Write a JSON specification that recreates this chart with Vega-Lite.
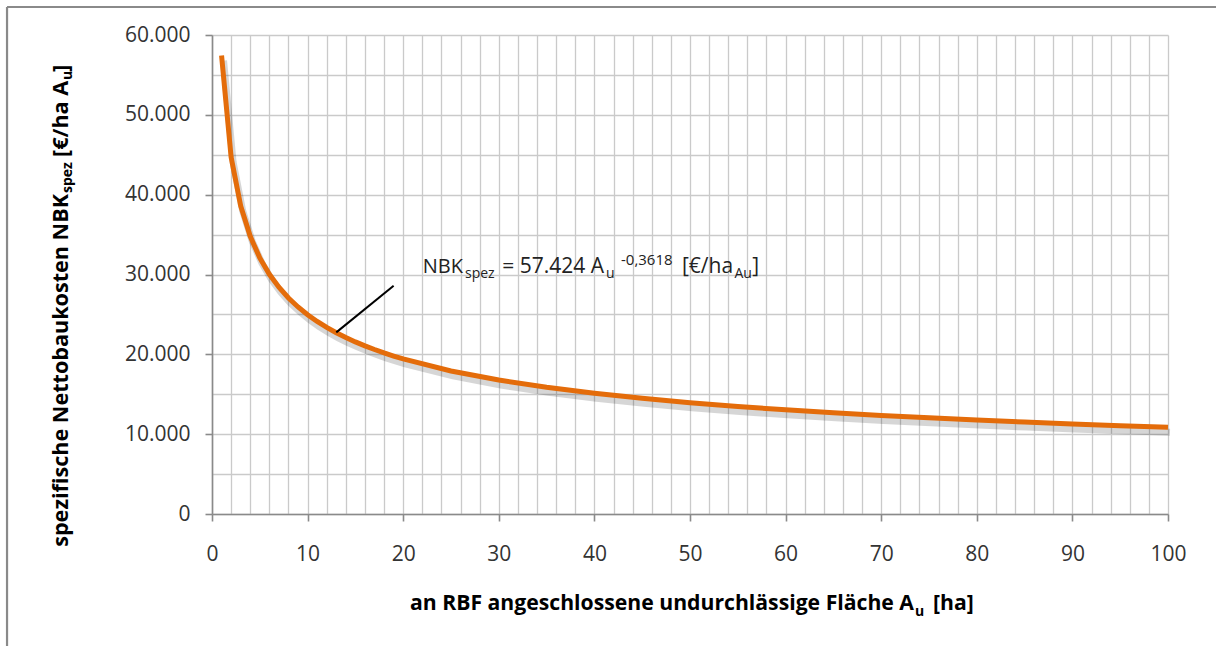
{
  "$schema": "https://vega.github.io/schema/vega-lite/v6.json",
  "width": 956,
  "height": 479,
  "autosize": {"type": "none"},
  "padding": {"left": 212, "top": 35, "right": 48, "bottom": 132},
  "background": "white",
  "config": {"view": {"stroke": null}, "font": "Open Sans"},
  "layer": [
    {
      "data": {"name": "curve", "values": [
        {"area": 1, "cost": 57424}, {"area": 2, "cost": 44687}, {"area": 3, "cost": 38590},
        {"area": 4, "cost": 34776}, {"area": 5, "cost": 32078}, {"area": 6, "cost": 30030},
        {"area": 7, "cost": 28401}, {"area": 8, "cost": 27062}, {"area": 9, "cost": 25933},
        {"area": 10, "cost": 24963}, {"area": 11, "cost": 24117}, {"area": 12, "cost": 23370},
        {"area": 13, "cost": 22698}, {"area": 14, "cost": 22102}, {"area": 15, "cost": 21557},
        {"area": 16, "cost": 21060}, {"area": 17, "cost": 20602}, {"area": 18, "cost": 20181},
        {"area": 19, "cost": 19790}, {"area": 20, "cost": 19426}, {"area": 25, "cost": 17919},
        {"area": 30, "cost": 16775}, {"area": 35, "cost": 15865}, {"area": 40, "cost": 15117},
        {"area": 45, "cost": 14486}, {"area": 50, "cost": 13945}, {"area": 55, "cost": 13472},
        {"area": 60, "cost": 13055}, {"area": 65, "cost": 12679}, {"area": 70, "cost": 12346},
        {"area": 75, "cost": 12042}, {"area": 80, "cost": 11764}, {"area": 85, "cost": 11509},
        {"area": 90, "cost": 11273}, {"area": 95, "cost": 11055}, {"area": 100, "cost": 10852}
      ]},
      "layer": [
        {
          "mark": {"type": "line", "color": "#000000", "opacity": 0.16, "strokeWidth": 7, "xOffset": 2, "yOffset": 5},
          "encoding": {
            "x": {"field": "area", "type": "quantitative",
              "scale": {"domain": [0, 100], "nice": false, "zero": false},
              "axis": {
                "values": [0,2,4,6,8,10,12,14,16,18,20,22,24,26,28,30,32,34,36,38,40,42,44,46,48,50,52,54,56,58,60,62,64,66,68,70,72,74,76,78,80,82,84,86,88,90,92,94,96,98,100],
                "tickCount": 100,
                "labelExpr": "datum.value % 10 === 0 ? datum.label : ''",
                "tickOpacity": {"condition": {"test": "datum.value % 10 === 0", "value": 1}, "value": 0},
                "grid": true, "gridColor": "#cacaca", "gridWidth": 1.3,
                "domainColor": "#8a8a8a", "domainWidth": 1.6,
                "tickColor": "#8a8a8a", "tickWidth": 1.6, "tickSize": 7,
                "labelFont": "Open Sans", "labelFontSize": 21, "labelColor": "#333333",
                "labelPadding": 22, "labelFlush": false, "labelOverlap": false, "labelBound": false,
                "title": null
              }},
            "y": {"field": "cost", "type": "quantitative",
              "scale": {"domain": [0, 60000], "nice": false, "zero": false},
              "axis": {
                "values": [0,5000,10000,15000,20000,25000,30000,35000,40000,45000,50000,55000,60000],
                "tickCount": 30,
                "labelExpr": "datum.value % 10000 === 0 ? replace(format(datum.value, ','), ',', '.') : ''",
                "tickOpacity": {"condition": {"test": "datum.value % 10000 === 0", "value": 1}, "value": 0},
                "grid": true, "gridColor": "#cacaca", "gridWidth": 1.3,
                "domainColor": "#8a8a8a", "domainWidth": 1.6,
                "tickColor": "#8a8a8a", "tickWidth": 1.6, "tickSize": 7,
                "labelFont": "Open Sans", "labelFontSize": 21, "labelColor": "#333333",
                "labelPadding": 15, "labelOverlap": false, "labelBound": false,
                "title": null
              }}
          }
        },
        {
          "mark": {"type": "line", "color": "#E46C0A", "strokeWidth": 5},
          "encoding": {
            "x": {"field": "area", "type": "quantitative", "axis": {"title": null}},
            "y": {"field": "cost", "type": "quantitative", "axis": {"title": null}}
          }
        }
      ]
    },
    {
      "data": {"values": [{}]},
      "mark": {"type": "rule", "color": "#000000", "strokeWidth": 2},
      "encoding": {
        "x": {"datum": 13, "type": "quantitative", "axis": {"title": null}},
        "y": {"datum": 22750, "type": "quantitative", "axis": {"title": null}},
        "x2": {"datum": 19},
        "y2": {"datum": 28600}
      }
    },
    {
      "data": {"values": [{}]},
      "mark": {"type": "text", "text": "NBK", "align": "right", "baseline": "alphabetic", "fontSize": 20, "color": "#222222"},
      "encoding": {"x": {"datum": 26.26, "type": "quantitative", "axis": {"title": null}}, "y": {"datum": 30150, "type": "quantitative", "axis": {"title": null}}}
    },
    {
      "data": {"values": [{}]},
      "mark": {"type": "text", "text": "spez", "align": "left", "baseline": "alphabetic", "fontSize": 14, "color": "#222222"},
      "encoding": {"x": {"datum": 26.46, "type": "quantitative", "axis": {"title": null}}, "y": {"datum": 29562, "type": "quantitative", "axis": {"title": null}}}
    },
    {
      "data": {"values": [{}]},
      "mark": {"type": "text", "text": "= 57.424 A", "align": "right", "baseline": "alphabetic", "fontSize": 21, "color": "#222222"},
      "encoding": {"x": {"datum": 41.0, "type": "quantitative", "axis": {"title": null}}, "y": {"datum": 30150, "type": "quantitative", "axis": {"title": null}}}
    },
    {
      "data": {"values": [{}]},
      "mark": {"type": "text", "text": "u", "align": "left", "baseline": "alphabetic", "fontSize": 14, "color": "#222222"},
      "encoding": {"x": {"datum": 41.21, "type": "quantitative", "axis": {"title": null}}, "y": {"datum": 29562, "type": "quantitative", "axis": {"title": null}}}
    },
    {
      "data": {"values": [{}]},
      "mark": {"type": "text", "text": "-0,3618", "align": "left", "baseline": "alphabetic", "fontSize": 15, "color": "#222222"},
      "encoding": {"x": {"datum": 42.78, "type": "quantitative", "axis": {"title": null}}, "y": {"datum": 31190, "type": "quantitative", "axis": {"title": null}}}
    },
    {
      "data": {"values": [{}]},
      "mark": {"type": "text", "text": "[€/ha", "align": "left", "baseline": "alphabetic", "fontSize": 21, "color": "#222222"},
      "encoding": {"x": {"datum": 49.16, "type": "quantitative", "axis": {"title": null}}, "y": {"datum": 30150, "type": "quantitative", "axis": {"title": null}}}
    },
    {
      "data": {"values": [{}]},
      "mark": {"type": "text", "text": "Au", "align": "left", "baseline": "alphabetic", "fontSize": 14, "color": "#222222"},
      "encoding": {"x": {"datum": 54.65, "type": "quantitative", "axis": {"title": null}}, "y": {"datum": 29562, "type": "quantitative", "axis": {"title": null}}}
    },
    {
      "data": {"values": [{}]},
      "mark": {"type": "text", "text": "]", "align": "left", "baseline": "alphabetic", "fontSize": 21, "color": "#222222"},
      "encoding": {"x": {"datum": 56.5, "type": "quantitative", "axis": {"title": null}}, "y": {"datum": 30150, "type": "quantitative", "axis": {"title": null}}}
    },
    {
      "data": {"values": [{}]},
      "mark": {"type": "text", "text": "an RBF angeschlossene undurchlässige Fläche A", "align": "right", "baseline": "alphabetic", "fontSize": 21.2, "fontWeight": "bold", "color": "#000000"},
      "encoding": {"x": {"datum": 73.43, "type": "quantitative", "axis": {"title": null}}, "y": {"datum": -12025, "type": "quantitative", "axis": {"title": null}}}
    },
    {
      "data": {"values": [{}]},
      "mark": {"type": "text", "text": "u", "align": "left", "baseline": "alphabetic", "fontSize": 14, "fontWeight": "bold", "color": "#000000"},
      "encoding": {"x": {"datum": 73.54, "type": "quantitative", "axis": {"title": null}}, "y": {"datum": -12777, "type": "quantitative", "axis": {"title": null}}}
    },
    {
      "data": {"values": [{}]},
      "mark": {"type": "text", "text": "[ha]", "align": "left", "baseline": "alphabetic", "fontSize": 21.2, "fontWeight": "bold", "color": "#000000"},
      "encoding": {"x": {"datum": 75.42, "type": "quantitative", "axis": {"title": null}}, "y": {"datum": -12025, "type": "quantitative", "axis": {"title": null}}}
    },
    {
      "data": {"values": [{}]},
      "mark": {"type": "text", "text": "spezifische Nettobaukosten NBK", "angle": 270, "align": "right", "baseline": "alphabetic", "fontSize": 21.6, "fontWeight": "bold", "color": "#000000"},
      "encoding": {"x": {"datum": -15.06, "type": "quantitative", "axis": {"title": null}}, "y": {"datum": 40084, "type": "quantitative", "axis": {"title": null}}}
    },
    {
      "data": {"values": [{}]},
      "mark": {"type": "text", "text": "spez", "angle": 270, "align": "left", "baseline": "alphabetic", "fontSize": 14, "fontWeight": "bold", "color": "#000000"},
      "encoding": {"x": {"datum": -14.64, "type": "quantitative", "axis": {"title": null}}, "y": {"datum": 40209, "type": "quantitative", "axis": {"title": null}}}
    },
    {
      "data": {"values": [{}]},
      "mark": {"type": "text", "text": "[€/ha A", "angle": 270, "align": "left", "baseline": "alphabetic", "fontSize": 21.6, "fontWeight": "bold", "color": "#000000"},
      "encoding": {"x": {"datum": -15.06, "type": "quantitative", "axis": {"title": null}}, "y": {"datum": 44719, "type": "quantitative", "axis": {"title": null}}}
    },
    {
      "data": {"values": [{}]},
      "mark": {"type": "text", "text": "u", "angle": 270, "align": "left", "baseline": "alphabetic", "fontSize": 14, "fontWeight": "bold", "color": "#000000"},
      "encoding": {"x": {"datum": -14.64, "type": "quantitative", "axis": {"title": null}}, "y": {"datum": 54364, "type": "quantitative", "axis": {"title": null}}}
    },
    {
      "data": {"values": [{}]},
      "mark": {"type": "text", "text": "]", "angle": 270, "align": "left", "baseline": "alphabetic", "fontSize": 21.6, "fontWeight": "bold", "color": "#000000"},
      "encoding": {"x": {"datum": -15.06, "type": "quantitative", "axis": {"title": null}}, "y": {"datum": 55366, "type": "quantitative", "axis": {"title": null}}}
    },
    {
      "data": {"values": [{}]},
      "mark": {"type": "rule", "color": "#8a8a8a", "strokeWidth": 2.2},
      "encoding": {
        "x": {"datum": -21.44, "type": "quantitative", "axis": {"title": null}},
        "y": {"datum": -17100, "type": "quantitative", "axis": {"title": null}},
        "y2": {"datum": 63508}
      }
    },
    {
      "data": {"values": [{}]},
      "mark": {"type": "rule", "color": "#8a8a8a", "strokeWidth": 2.2},
      "encoding": {
        "x": {"datum": -21.44, "type": "quantitative", "axis": {"title": null}},
        "x2": {"datum": 105.7},
        "y": {"datum": 63508, "type": "quantitative", "axis": {"title": null}}
      }
    }
  ]
}
